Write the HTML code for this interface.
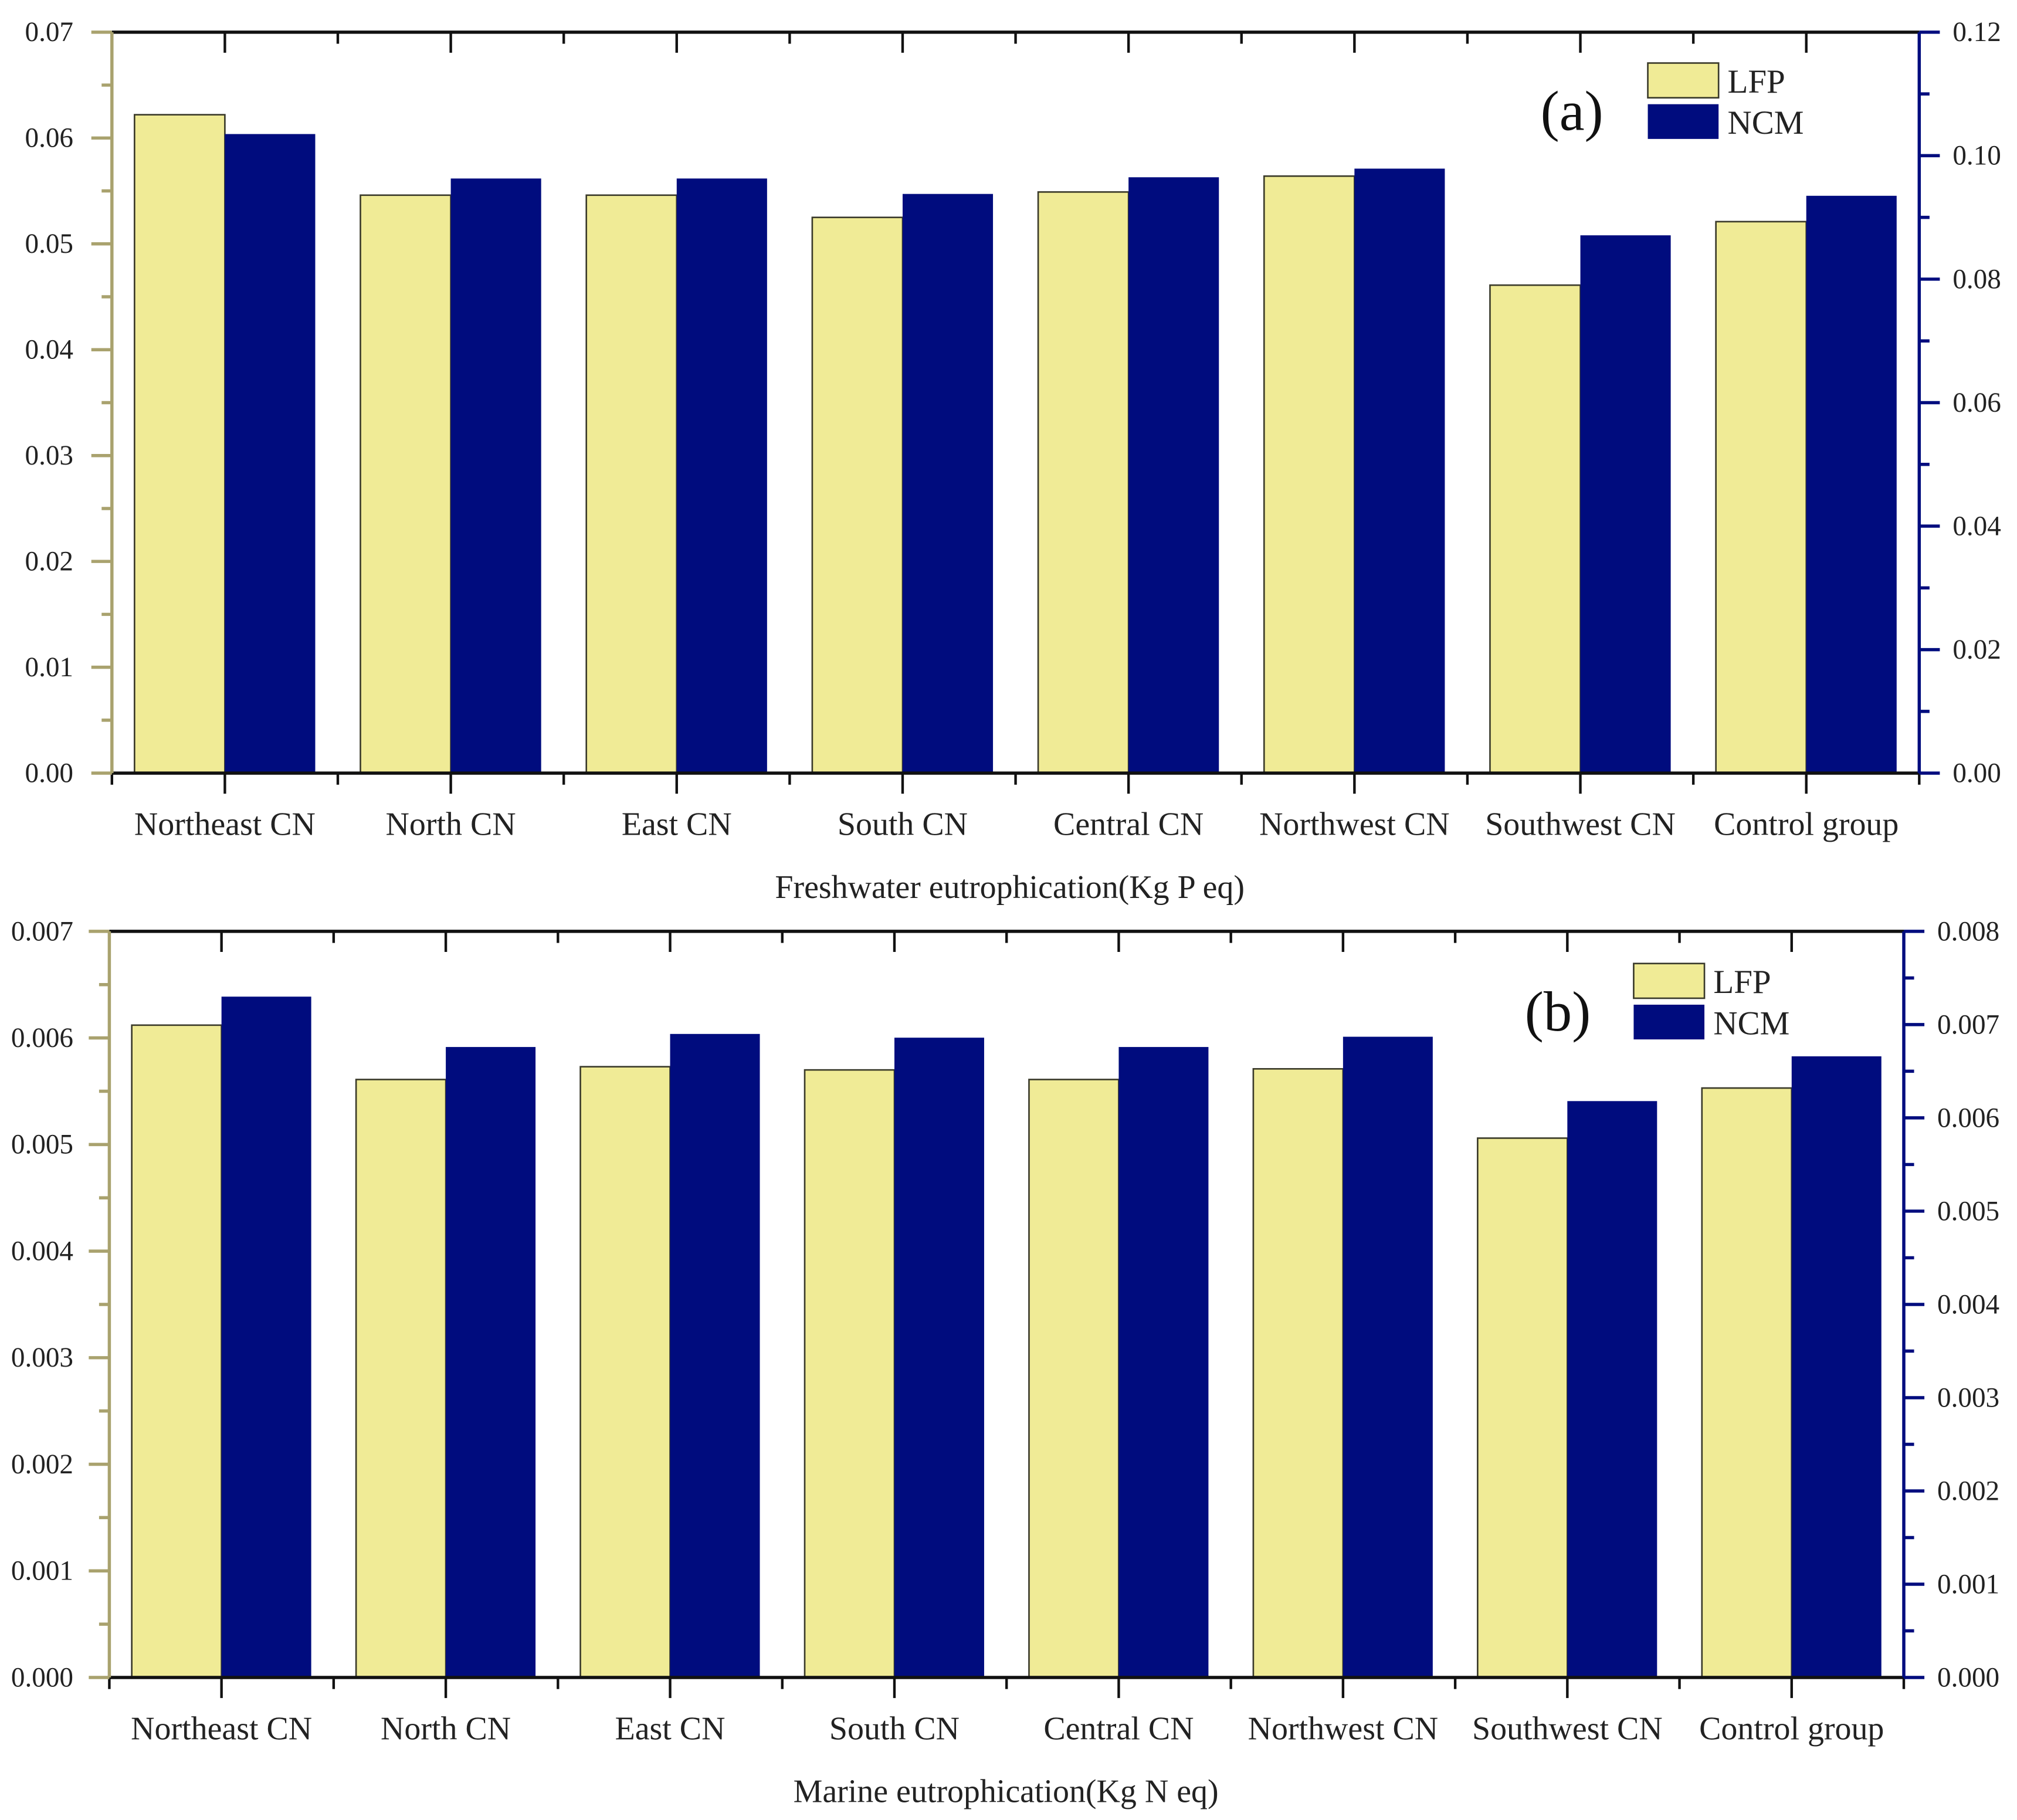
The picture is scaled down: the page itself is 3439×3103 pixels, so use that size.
<!DOCTYPE html>
<html><head><meta charset="utf-8"><style>html,body{margin:0;padding:0;background:#fff}svg{display:block}</style></head>
<body>
<svg id="chart" width="3439" height="3103" viewBox="0 0 1568 1414.8" xmlns="http://www.w3.org/2000/svg" font-family="Liberation Serif, serif"></svg>
<script>
const categories = ["Northeast CN","North CN","East CN","South CN","Central CN","Northwest CN","Southwest CN","Control group"];
const lfpFresh = [0.0622,0.0546,0.0546,0.0525,0.0549,0.0564,0.0461,0.0521];
const ncmFresh = [0.1035,0.0963,0.0963,0.0938,0.0965,0.0979,0.0871,0.0935];
const lfpMarine = [0.00612,0.00561,0.00573,0.00570,0.00561,0.00571,0.00506,0.00553];
const ncmMarine = [0.00730,0.00676,0.00690,0.00686,0.00676,0.00687,0.00618,0.00666];
const leftTicksA = ["0.00","0.01","0.02","0.03","0.04","0.05","0.06","0.07"];
const rightTicksA = ["0.00","0.02","0.04","0.06","0.08","0.10","0.12"];
const leftTicksB = ["0.000","0.001","0.002","0.003","0.004","0.005","0.006","0.007"];
const rightTicksB = ["0.000","0.001","0.002","0.003","0.004","0.005","0.006","0.007","0.008"];

const svg = document.getElementById('chart');
const NS = 'http://www.w3.org/2000/svg';
function mk(tag, attrs, parent, text){
  const e = document.createElementNS(NS, tag);
  for (const k in attrs) e.setAttribute(k, attrs[k]);
  if (text !== undefined) e.textContent = text;
  (parent || svg).appendChild(e);
  return e;
}
const KH = '#a9a26e', NAVY = '#000c7e', YEL = '#f0eb96';

function panel(p){
  const g = mk('g', {});
  
  
  const W = p.R - p.L, H = p.B - p.T;
  const n = categories.length, step = W / n;
  const yL = v => p.B - v / p.lmax * H;
  const yR = v => p.B - v / p.rmax * H;
  const xc = i => p.L + step * (i + 0.5);
  const bw = step * 0.4;
  categories.forEach((c, i) => {
    const a = mk('rect', {x: xc(i) - bw, y: yL(p.lfp[i]), width: bw, height: p.B - yL(p.lfp[i]), fill: YEL, stroke: '#3a3a2a', 'stroke-width': 1.2}, g);
    
    
    const b = mk('rect', {x: xc(i), y: yR(p.ncm[i]), width: bw, height: p.B - yR(p.ncm[i]), fill: NAVY}, g);
    
    
    const t = mk('text', {x: xc(i), y: p.B + 48, 'font-size': 25.5, 'text-anchor': 'middle', fill: '#222'}, g, c);
    
    
    mk('line', {x1: xc(i), x2: xc(i), y1: p.B, y2: p.B + 16, stroke: '#111', 'stroke-width': 2}, g);
    mk('line', {x1: xc(i), x2: xc(i), y1: p.T, y2: p.T + 16, stroke: '#111', 'stroke-width': 2}, g);
  });
  for (let i = 0; i <= n; i++){
    const x = p.L + step * i;
    mk('line', {x1: x, x2: x, y1: p.B, y2: p.B + 9, stroke: '#111', 'stroke-width': 2}, g);
    mk('line', {x1: x, x2: x, y1: p.T, y2: p.T + 9, stroke: '#111', 'stroke-width': 2}, g);
  }
  mk('line', {x1: p.L, x2: p.R, y1: p.T, y2: p.T, stroke: '#111', 'stroke-width': 2.5}, g);
  mk('line', {x1: p.L, x2: p.R, y1: p.B, y2: p.B, stroke: '#111', 'stroke-width': 2.5}, g);
  mk('line', {x1: p.L, x2: p.L, y1: p.T, y2: p.B, stroke: KH, 'stroke-width': 2.5}, g);
  mk('line', {x1: p.R, x2: p.R, y1: p.T, y2: p.B, stroke: NAVY, 'stroke-width': 2.5}, g);
  p.lt.forEach((lab, i) => {
    const v = p.lmax * i / (p.lt.length - 1), y = yL(v);
    mk('line', {x1: p.L - 16, x2: p.L, y1: y, y2: y, stroke: KH, 'stroke-width': 2.5}, g);
    if (i < p.lt.length - 1){ const ym = yL(v + p.lmax / (p.lt.length - 1) / 2); mk('line', {x1: p.L - 8, x2: p.L, y1: ym, y2: ym, stroke: KH, 'stroke-width': 2.5}, g); }
    const t = mk('text', {x: 57, y: y + 7, 'font-size': 21.5, 'text-anchor': 'end', fill: '#222'}, g, lab);
    
    
  });
  p.rt.forEach((lab, i) => {
    const v = p.rmax * i / (p.rt.length - 1), y = yR(v);
    mk('line', {x1: p.R, x2: p.R + 16, y1: y, y2: y, stroke: NAVY, 'stroke-width': 2.5}, g);
    if (i < p.rt.length - 1){ const ym = yR(v + p.rmax / (p.rt.length - 1) / 2); mk('line', {x1: p.R, x2: p.R + 8, y1: ym, y2: ym, stroke: NAVY, 'stroke-width': 2.5}, g); }
    const t = mk('text', {x: p.R + 26, y: y + 7, 'font-size': 21.5, fill: '#222'}, g, lab);
    
    
  });
  const tt = mk('text', {x: p.tx, y: p.B + 97, 'font-size': 25.5, 'text-anchor': 'middle', fill: '#222'}, g, p.title);
  
  
  const lg = mk('g', {}, g);
  
  
  mk('rect', {x: p.lx, y: p.ly, width: 55, height: 27, fill: YEL, stroke: '#3a3a2a', 'stroke-width': 1.2}, lg);
  mk('rect', {x: p.lx, y: p.ly + 32, width: 55, height: 27, fill: NAVY}, lg);
  mk('text', {x: p.lx + 62, y: p.ly + 23, 'font-size': 26, fill: '#222'}, lg, 'LFP');
  mk('text', {x: p.lx + 62, y: p.ly + 55, 'font-size': 26, fill: '#222'}, lg, 'NCM');
  const pl = mk('text', {x: p.lx - 59, y: p.ly + 52, 'font-size': 44, 'text-anchor': 'middle', fill: '#111'}, lg, p.tag);
  
  
}
panel({name:'panel-a-freshwater', L:87, R:1492, T:25, B:601, lmax:0.07, rmax:0.12, lfp:lfpFresh, ncm:ncmFresh, lt:leftTicksA, rt:rightTicksA, title:'Freshwater eutrophication(Kg P eq)', tx:785, lx:1281, ly:49, tag:'(a)'});
panel({name:'panel-b-marine', L:85, R:1480, T:724, B:1304, lmax:0.007, rmax:0.008, lfp:lfpMarine, ncm:ncmMarine, lt:leftTicksB, rt:rightTicksB, title:'Marine eutrophication(Kg N eq)', tx:782, lx:1270, ly:749, tag:'(b)'});
</script>
</body></html>
